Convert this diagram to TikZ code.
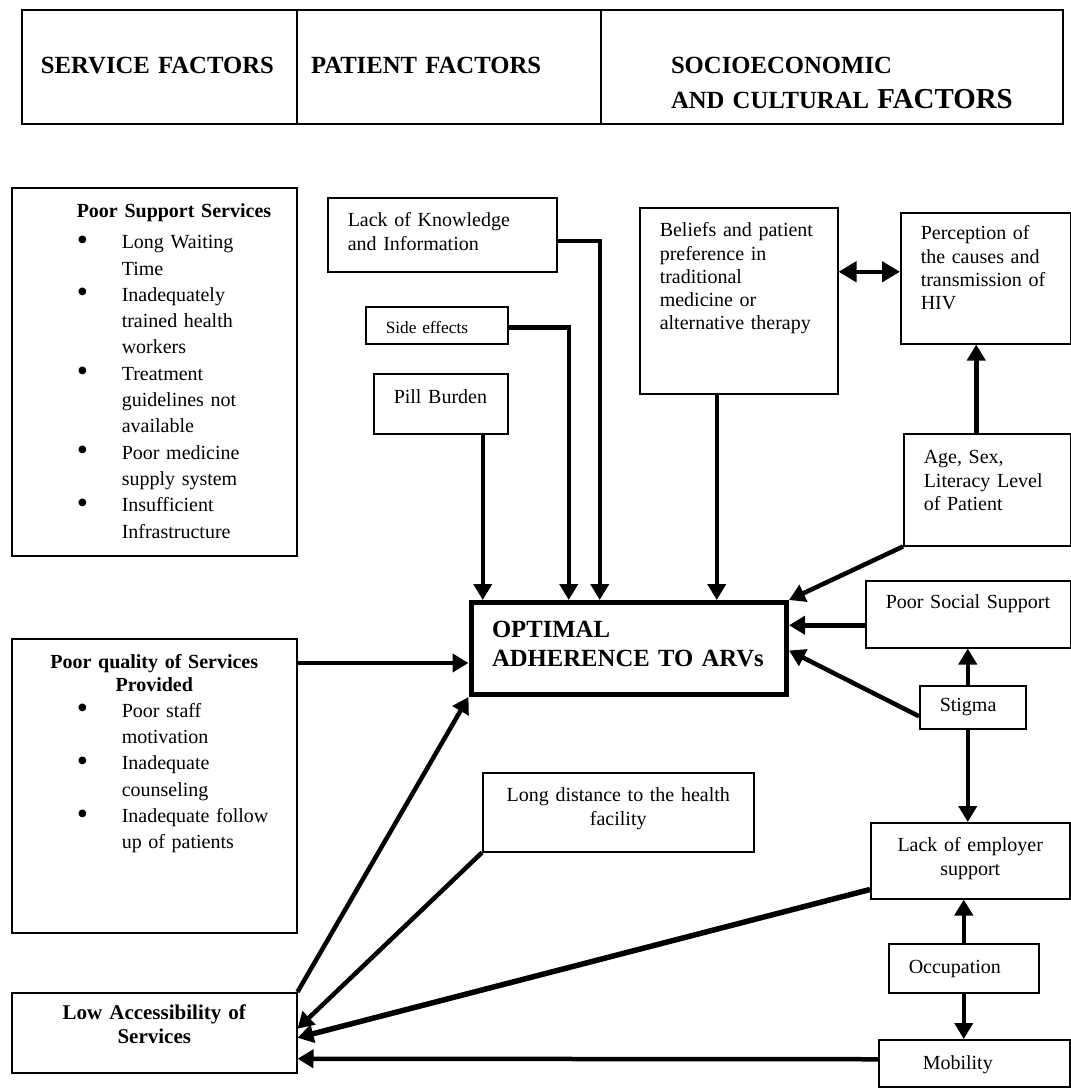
\documentclass[tikz,border=0pt]{standalone}
\usepackage{fontspec}
\setmainfont{Liberation Serif}
\usetikzlibrary{arrows.meta}

\newcommand{\bodyfont}{\fontsize{20}{23.3}\selectfont}
\newcommand{\listfont}{\fontsize{20}{26.3}\selectfont}
\newcommand{\smallfont}{\fontsize{17.3}{20}\selectfont}
\newcommand{\headfont}{\fontsize{24.7}{35}\selectfont\bfseries}
\newcommand{\bigheadfont}{\fontsize{28.9}{35}\selectfont\bfseries}
\newcommand{\centrefont}{\fontsize{24.7}{29}\selectfont\bfseries}
\newcommand{\accessfont}{\fontsize{21}{24}\selectfont\bfseries}
\newcommand{\dotmark}{\raisebox{-1.5pt}{\scalebox{1.6}{\textbullet}}}

\begin{document}
\begin{tikzpicture}[x=1pt, y=-1pt,
    factor/.style={draw, line width=1.5pt, anchor=north west, inner xsep=20pt, inner ysep=0pt, align=left, font=\bodyfont},
    heading/.style={factor, line width=2pt, font=\headfont},
    flow/.style={line width=4.5pt, -{Triangle[length=16pt, width=18pt]}},
    both/.style={line width=4.5pt, {Triangle[length=18pt, width=20pt]}-{Triangle[length=18pt, width=20pt]}}]
        \useasboundingbox[fill=white] (0,0) rectangle (1071,1088);

        \node[heading, text width=237pt, inner xsep=19pt, text height=63pt, text depth=51pt] (service) at (21,9) {SERVICE FACTORS};
        \node[heading, text width=276pt, inner xsep=14pt, text height=63pt, text depth=51pt] (patient) at (296,9) {PATIENT FACTORS};
        \node[heading, text width=322pt, inner xsep=70pt, text height=63pt, text depth=51pt] (socio) at (600,9) {SOCIOECONOMIC\\\mbox{AND CULTURAL {\bigheadfont FACTORS}}};

        \node[factor, text width=245pt, text height=30pt, text depth=338pt, font=\listfont] (support) at (11,187) {%
            \begin{tabular}[t]{@{\hspace{45pt}}p{45pt}@{}p{155pt}@{}}
            \multicolumn{2}{@{\hspace{45pt}}l@{}}{\bfseries Poor Support Services}\\[4.7pt]
            \dotmark & Long Waiting\\
                     & Time\\
            \dotmark & Inadequately\\
                     & trained health\\
                     & workers\\
            \dotmark & Treatment\\
                     & guidelines not\\
                     & available\\
            \dotmark & Poor medicine\\
                     & supply system\\
            \dotmark & Insufficient\\
                     & Infrastructure
            \end{tabular}};
        \node[factor, text width=245pt, text height=30pt, text depth=264pt, font=\listfont] (quality) at (11,638) {%
            \begin{tabular}[t]{@{\hspace{45pt}}p{45pt}@{}p{155pt}@{}}
            \multicolumn{2}{@{}c@{}}{\bfseries Poor quality of Services}\\[-4pt]
            \multicolumn{2}{@{}c@{}}{\bfseries Provided}\\
            \dotmark & Poor staff\\
                     & motivation\\
            \dotmark & Inadequate\\
                     & counseling\\
            \dotmark & Inadequate follow\\
                     & up of patients
            \end{tabular}};
        \node[factor, align=center, text width=245pt, text height=27pt, text depth=53pt, font=\accessfont] (access) at (11,992) {Low Accessibility of\\Services};

        \node[factor, text width=189pt, text height=29pt, text depth=45pt] (knowledge) at (327,197) {Lack of Knowledge\\and Information};
        \node[factor, text width=102pt, text height=27pt, text depth=10pt, font=\smallfont] (side) at (365,306) {Side effects};
        \node[factor, text width=94pt, text height=30pt, text depth=30pt] (pill) at (373,373) {Pill Burden};
        \node[factor, text width=158pt, text height=29pt, text depth=157pt] (beliefs) at (639,207) {Beliefs and patient\\preference in\\traditional\\medicine or\\alternative therapy};
        \node[factor, text width=130pt, text height=27pt, text depth=104pt] (perception) at (900,212) {Perception of\\the causes and\\transmission of\\HIV};
        \node[factor, text width=127pt, text height=30pt, text depth=82pt] (age) at (903,433) {Age, Sex,\\Literacy Level\\of Patient};

        \node[factor, line width=5pt, text width=273.5pt, inner xsep=21pt, text height=34.5pt, text depth=57.5pt, font=\centrefont] (adherence) at (468.5,600) {OPTIMAL\\ADHERENCE TO ARVs};

        \node[factor, text width=165pt, text height=28pt, text depth=39pt] (social) at (865,580) {Poor Social Support};
        \node[factor, text width=66pt, text height=26pt, text depth=17pt] (stigma) at (919,685) {Stigma};
        \node[factor, align=center, text width=231pt, text height=29pt, text depth=50pt] (distance) at (482,772) {Long distance to the health\\facility};
        \node[factor, align=center, text width=159pt, text height=29pt, text depth=47pt] (employer) at (870,822) {Lack of employer\\support};
        \node[factor, text width=110pt, text height=30pt, text depth=19pt] (occupation) at (888,943) {Occupation};
        \node[factor, text width=103pt, inner xsep=44pt, text height=30pt, text depth=17pt] (mobility) at (878,1039) {Mobility};

        \draw[flow] ([yshift=-6pt]knowledge.east) -| ([xshift=-29pt]adherence.north);
        \draw[flow] ([yshift=-2pt]side.east) -| ([xshift=-60pt]adherence.north);
        \draw[flow] ([xshift=42pt]pill.south) -- ([xshift=42pt]pill.south |- adherence.north);
        \draw[flow] ([xshift=-22pt]beliefs.south) -- ([xshift=-22pt]beliefs.south |- adherence.north);
        \draw[both] ([yshift=29pt]beliefs.east) -- ([yshift=29pt]beliefs.east -| perception.west);
        \draw[flow] ([xshift=-11pt]age.north) -- ([xshift=-11pt]age.north |- perception.south);
        \draw[flow] (age.south west) -- (adherence.north east);
        \draw[flow] ([yshift=-11pt]social.west) -- ([yshift=-11pt]social.west -| adherence.east);
        \draw[flow] ([yshift=-9pt]stigma.west) -- ([yshift=-2pt]adherence.east);
        \draw[flow] ([xshift=-5pt]stigma.north) -- ([xshift=-5pt]stigma.north |- social.south);
        \draw[flow] ([xshift=-5pt]stigma.south) -- ([xshift=-5pt]stigma.south |- employer.north);
        \draw[flow] (occupation.north) -- (occupation.north |- employer.south);
        \draw[flow] (occupation.south) -- (occupation.south |- mobility.north);
        \draw[flow] ([yshift=-25pt]quality.north east) -- ([yshift=-25pt]quality.north east -| adherence.west);
        \draw[flow] (access.north east) -- (adherence.south west);
        \draw[flow] (distance.south west) -- ([yshift=4pt]access.east);
        \draw[flow, line width=5.5pt] ([yshift=10pt]employer.south west) -- ([yshift=-5pt]access.east);
        \draw[flow] ([yshift=4pt]mobility.west) -- ([yshift=-26pt]access.east);
\end{tikzpicture}
\end{document}
